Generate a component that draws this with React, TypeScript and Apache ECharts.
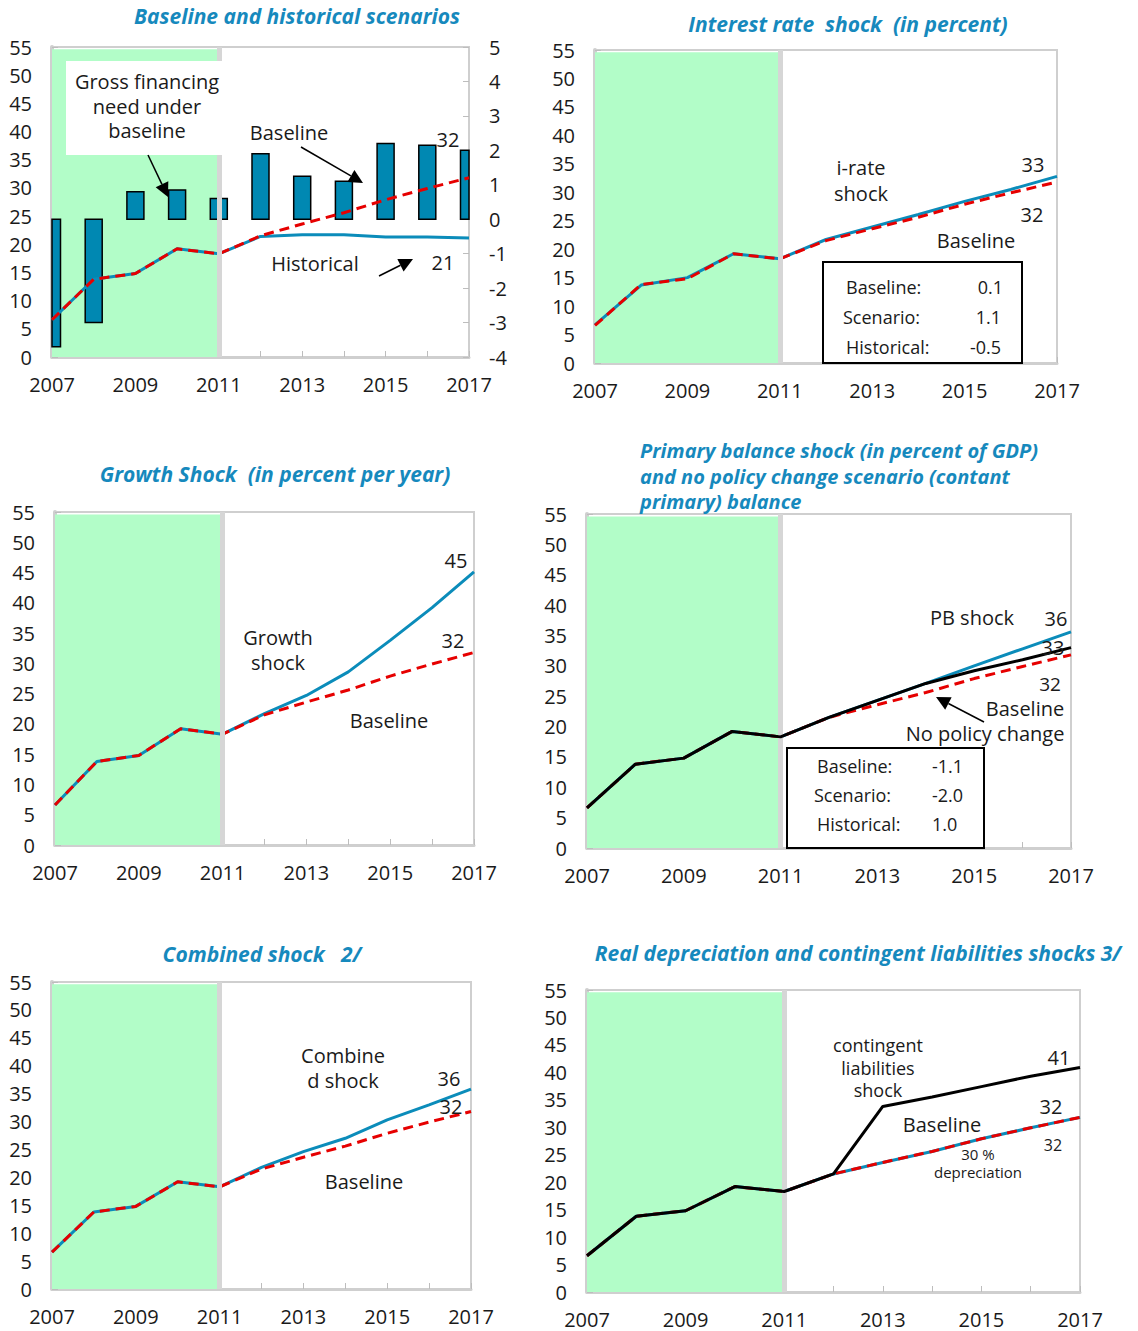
import React, { useEffect, useRef } from "react";
import * as echarts from "echarts";

const years = ["2007", "2008", "2009", "2010", "2011", "2012", "2013", "2014", "2015", "2016", "2017"];

const baseline = [6.6, 13.8, 14.8, 19.2, 18.3, 21.5, 23.6, 25.6, 27.9, 29.9, 31.8];
const historical = [6.6, 13.8, 14.8, 19.2, 18.3, 21.4, 21.7, 21.7, 21.3, 21.3, 21.1];
const grossFinancingNeed = [-3.7, -3.0, 0.8, 0.85, 0.6, 1.9, 1.25, 1.1, 2.2, 2.15, 2.0];
const interestRateShock = [6.7, 13.7, 15.0, 19.2, 18.3, 21.7, 23.9, 26.1, 28.4, 30.5, 32.8];
const growthShock = [6.6, 13.8, 14.8, 19.2, 18.3, 21.7, 24.7, 28.6, 33.8, 39.2, 45.1];
const pbShock = [6.6, 13.8, 14.8, 19.2, 18.3, 21.5, 24.3, 27.1, 30.0, 32.8, 35.6];
const noPolicyChange = [6.6, 13.8, 14.8, 19.2, 18.3, 21.5, 24.3, 27.1, 29.2, 31.0, 33.0];
const combinedShock = [6.6, 13.8, 14.8, 19.2, 18.3, 21.8, 24.6, 27.0, 30.3, 33.0, 35.8];
const contingentLiabilities = [6.6, 13.8, 14.8, 19.2, 18.3, 21.5, 33.8, 35.5, 37.4, 39.3, 40.9];
const depreciation30 = [6.6, 13.8, 14.8, 19.2, 18.3, 21.5, 23.6, 25.6, 27.9, 29.9, 31.8];

const FONT = '"Open Sans", "Noto Sans", sans-serif';
const BLUE = "#0b8cba";
const BAR_BLUE = "#0088b2";
const RED = "#e60000";
const GREEN = "#b2fdc8";
const TITLE = "#1689bd";
const AXIS_GREY = "#cfcfcf";

const grids = [
  { left: 52, top: 47, width: 417, height: 310 },
  { left: 595, top: 50, width: 462, height: 313 },
  { left: 55, top: 512, width: 419, height: 333 },
  { left: 587, top: 514, width: 484, height: 334 },
  { left: 52, top: 982, width: 419, height: 307 },
  { left: 587, top: 990, width: 493, height: 302 },
];

function T(text: string, x: number, y: number, o: any = {}) {
  return {
    type: "text",
    x,
    y,
    z: 100,
    style: {
      text,
      font: o.font || `20px ${FONT}`,
      fill: o.fill || "#1a1a1a",
      textAlign: o.align || "center",
      textVerticalAlign: "middle",
      lineHeight: o.lineHeight || undefined,
    },
  };
}
function titleT(text: string, x: number, y: number, align = "center", lineHeight?: number, size = 21) {
  return T(text, x, y, { font: `italic bold ${size}px ${FONT}`, fill: TITLE, align, lineHeight });
}
function arrow(x1: number, y1: number, x2: number, y2: number) {
  const dx = x2 - x1, dy = y2 - y1, L = Math.hypot(dx, dy);
  const ux = dx / L, uy = dy / L;
  const hl = 14, hw = 7;
  const bx = x2 - ux * hl, by = y2 - uy * hl;
  return [
    { type: "line", z: 100, shape: { x1, y1, x2: bx, y2: by }, style: { stroke: "#000", lineWidth: 1.5 } },
    {
      type: "polygon",
      z: 100,
      shape: { points: [[x2, y2], [bx - uy * hw, by + ux * hw], [bx + uy * hw, by - ux * hw]] },
      style: { fill: "#000" },
    },
  ];
}
function box(x: number, y: number, w: number, h: number, stroke: string | null) {
  return {
    type: "rect",
    z: 90,
    shape: { x, y, width: w, height: h },
    style: { fill: "#fff", stroke: stroke || "none", lineWidth: stroke ? 2 : 0 },
  };
}

export default function App() {
  const ref = useRef<HTMLDivElement>(null);
  useEffect(() => {
    if (!ref.current) return;
    const chart = echarts.init(ref.current, null, { renderer: "svg" });

    const xAxis = grids.map((_, i) => ({
      type: "category",
      gridIndex: i,
      data: years,
      boundaryGap: false,
      axisLine: { show: true, lineStyle: { color: AXIS_GREY, width: 3 } },
      axisTick: { show: true, inside: true, length: 6, interval: 0, lineStyle: { color: "#bdbdbd", width: 1 } },
      axisLabel: { interval: 1, margin: 17, color: "#1a1a1a", fontSize: 20, fontFamily: FONT },
      splitLine: { show: false },
    }));

    const leftY = (i: number) => ({
      type: "value",
      gridIndex: i,
      min: 0,
      max: 55,
      interval: 5,
      axisLine: { show: true, lineStyle: { color: AXIS_GREY, width: 4 } },
      axisTick: { show: true, inside: true, length: 6, lineStyle: { color: "#bdbdbd", width: 1 } },
      axisLabel: { margin: 20, color: "#1a1a1a", fontSize: 20, fontFamily: FONT },
      splitLine: { show: false },
    });
    const yAxis: any[] = [
      leftY(0),
      {
        type: "value",
        gridIndex: 0,
        position: "right",
        min: -4,
        max: 5,
        interval: 1,
        axisLine: { show: false },
        axisTick: { show: true, inside: true, length: 6, lineStyle: { color: "#bdbdbd", width: 1 } },
        axisLabel: { margin: 20, color: "#1a1a1a", fontSize: 20, fontFamily: FONT },
        splitLine: { show: false },
      },
      leftY(1),
      leftY(2),
      leftY(3),
      leftY(4),
      leftY(5),
    ];
    const yIdx = [0, 2, 3, 4, 5, 6];

    const series: any[] = [];
    grids.forEach((_, i) => {
      series.push({
        type: "line",
        xAxisIndex: i,
        yAxisIndex: yIdx[i],
        data: [],
        z: -2,
        silent: true,
        markArea: {
          silent: true,
          itemStyle: { color: GREEN },
          data: [[{ xAxis: "2007", yAxis: 0 }, { xAxis: "2011", yAxis: 54.6 }]],
        },
      });
      series.push({
        type: "line",
        xAxisIndex: i,
        yAxisIndex: yIdx[i],
        data: [],
        z: -1,
        silent: true,
        markLine: {
          silent: true,
          symbol: "none",
          label: { show: false },
          lineStyle: { color: "#d6d6d6", width: 5, type: "solid" },
          data: [{ xAxis: "2011" }],
        },
      });
    });

    const solid = (i: number, data: number[], color: string, z = 3) => ({
      type: "line",
      xAxisIndex: i,
      yAxisIndex: yIdx[i],
      data,
      symbol: "none",
      showSymbol: false,
      z,
      lineStyle: { color, width: 3 },
    });
    const dashed = (i: number, data: number[], z = 4) => ({
      type: "line",
      xAxisIndex: i,
      yAxisIndex: yIdx[i],
      data,
      symbol: "none",
      showSymbol: false,
      z,
      lineStyle: { color: RED, width: 3, type: [10, 6] },
    });

    // Panel 1 : bars clipped to the plot area
    series.push({
      type: "custom",
      xAxisIndex: 0,
      yAxisIndex: 1,
      z: 2,
      data: grossFinancingNeed.map((v, i) => [i, v]),
      encode: { x: 0, y: 1 },
      renderItem: (params: any, api: any) => {
        const idx = api.value(0);
        const top = api.coord([idx, api.value(1)]);
        const base = api.coord([idx, 0]);
        const w = 17;
        const cs = params.coordSys;
        const rect = echarts.graphic.clipRectByRect(
          { x: top[0] - w / 2, y: Math.min(top[1], base[1]), width: w, height: Math.abs(base[1] - top[1]) },
          { x: cs.x, y: cs.y, width: cs.width, height: cs.height }
        );
        if (!rect) return null;
        return {
          type: "rect",
          shape: rect,
          style: { fill: BAR_BLUE, stroke: "#000", lineWidth: 1.5 },
        };
      },
    });
    series.push(solid(0, historical, BLUE));
    series.push(dashed(0, baseline));
    // Panel 2
    series.push(solid(1, interestRateShock, BLUE));
    series.push(dashed(1, baseline));
    // Panel 3
    series.push(solid(2, growthShock, BLUE));
    series.push(dashed(2, baseline));
    // Panel 4
    series.push(solid(3, pbShock, BLUE));
    series.push(dashed(3, baseline));
    series.push(solid(3, noPolicyChange, "#000", 5));
    // Panel 5
    series.push(solid(4, combinedShock, BLUE));
    series.push(dashed(4, baseline));
    // Panel 6
    series.push(solid(5, depreciation30, BLUE));
    series.push(dashed(5, baseline));
    series.push(solid(5, contingentLiabilities, "#000", 5));

    const BOX = `18px ${FONT}`;
    const graphic: any[] = [
      // Panel 1
      titleT("Baseline and historical scenarios", 297, 16),
      box(66, 61, 156, 94, null),
      T("Gross financing\nneed under\nbaseline", 147, 106, { lineHeight: 24.5 }),
      ...arrow(148, 155, 168, 197),
      T("Baseline", 289, 132),
      ...arrow(301, 147, 363, 183),
      T("32", 448, 139),
      T("Historical", 315, 263),
      ...arrow(379, 276, 413, 259),
      T("21", 443, 262),
      // Panel 2
      titleT("Interest rate  shock  (in percent)", 848, 24),
      T("i-rate\nshock", 861, 180, { lineHeight: 26 }),
      T("33", 1033, 164),
      T("32", 1032, 214),
      T("Baseline", 976, 240),
      box(823, 262, 199, 101, "#000"),
      T("Baseline:", 846, 287, { align: "left", font: BOX }),
      T("0.1", 1003, 287, { align: "right", font: BOX }),
      T("Scenario:", 843, 317, { align: "left", font: BOX }),
      T("1.1", 1001, 317, { align: "right", font: BOX }),
      T("Historical:", 846, 347, { align: "left", font: BOX }),
      T("-0.5", 1001, 347, { align: "right", font: BOX }),
      // Panel 3
      titleT("Growth Shock  (in percent per year)", 275, 474),
      T("Growth\nshock", 278, 649.5, { lineHeight: 25 }),
      T("45", 456, 560),
      T("32", 453, 640),
      T("Baseline", 389, 720),
      // Panel 4
      titleT(
        "Primary balance shock (in percent of GDP)\nand no policy change scenario (contant\nprimary) balance",
        640,
        476,
        "left",
        25.5,
        20
      ),
      T("PB shock", 972, 617),
      T("36", 1056, 618),
      T("33", 1053, 647),
      T("32", 1050, 684, { font: `19px ${FONT}` }),
      T("Baseline", 1025, 708),
      T("No policy change", 985, 733),
      ...arrow(984, 722, 936, 697),
      box(787, 748, 197, 100, "#000"),
      T("Baseline:", 817, 766, { align: "left", font: BOX }),
      T("-1.1", 932, 766, { align: "left", font: BOX }),
      T("Scenario:", 814, 795, { align: "left", font: BOX }),
      T("-2.0", 932, 795, { align: "left", font: BOX }),
      T("Historical:", 817, 824, { align: "left", font: BOX }),
      T("1.0", 932, 824, { align: "left", font: BOX }),
      // Panel 5
      titleT("Combined shock   2/", 262, 954),
      T("Combine\nd shock", 343, 1068, { lineHeight: 24.5 }),
      T("36", 449, 1078),
      T("32", 451, 1106),
      T("Baseline", 364, 1181),
      // Panel 6
      titleT("Real depreciation and contingent liabilities shocks 3/", 858, 953),
      T("contingent\nliabilities\nshock", 878, 1067.5, { font: `18px ${FONT}`, lineHeight: 22.5 }),
      T("41", 1059, 1057),
      T("32", 1051, 1106),
      T("Baseline", 942, 1124),
      T("30 %\ndepreciation", 978, 1163, { font: `15px ${FONT}`, lineHeight: 18 }),
      T("32", 1053, 1145, { font: `16px ${FONT}` }),
    ];

    chart.setOption({
      animation: false,
      backgroundColor: "#ffffff",
      textStyle: { fontFamily: FONT },
      grid: grids.map((g) => ({
        ...g,
        show: true,
        borderColor: AXIS_GREY,
        borderWidth: 2,
        backgroundColor: "transparent",
        containLabel: false,
      })),
      xAxis,
      yAxis,
      series,
      graphic,
    });
    return () => chart.dispose();
  }, []);

  return (
    <div
      ref={ref}
      style={{ position: "absolute", left: 0, top: 0, width: 1138, height: 1331, background: "#fff" }}
    />
  );
}
